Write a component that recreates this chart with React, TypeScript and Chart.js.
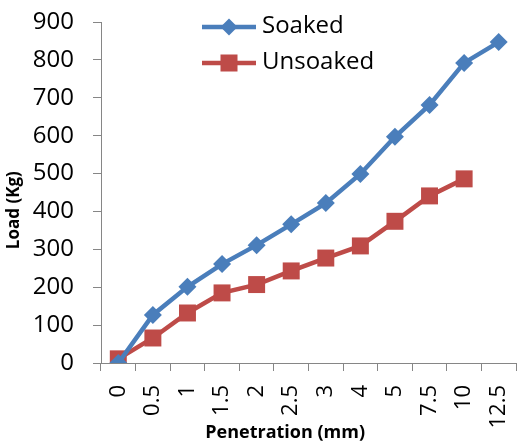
import React, { useEffect, useRef } from "react";
import { Chart, registerables } from "chart.js";

Chart.register(...registerables);

const categories = ["0", "0.5", "1", "1.5", "2", "2.5", "3", "4", "5", "7.5", "10", "12.5"];
const soaked = [0, 127, 201, 261, 311, 366, 422, 499, 597, 681, 792, 847];
const unsoaked = [11, 66, 132, 185, 207, 243, 277, 309, 374, 441, 486, null];
const yTicks = [0, 100, 200, 300, 400, 500, 600, 700, 800, 900];

const BLUE = "#4a7ebb";
const RED = "#be4b48";
const AXIS = "#868686";
const FONT = "'Open Sans', sans-serif";

const legendPlugin = {
  id: "customLegend",
  afterDraw(chart: any) {
    const ctx = chart.ctx;
    const rows = [
      { y: 27, ds: chart.data.datasets[0] },
      { y: 63, ds: chart.data.datasets[1] },
    ];
    ctx.save();
    rows.forEach((r) => {
      const ds = r.ds;
      ctx.strokeStyle = ds.borderColor;
      ctx.lineWidth = ds.borderWidth;
      ctx.beginPath();
      ctx.moveTo(202, r.y);
      ctx.lineTo(256, r.y);
      ctx.stroke();
      ctx.fillStyle = ds.backgroundColor;
      const cx = 229;
      if (ds.pointStyle === "rectRot") {
        const s = 8.5;
        ctx.beginPath();
        ctx.moveTo(cx - s, r.y);
        ctx.lineTo(cx, r.y - s);
        ctx.lineTo(cx + s, r.y);
        ctx.lineTo(cx, r.y + s);
        ctx.closePath();
        ctx.fill();
      } else {
        ctx.fillRect(cx - 8.5, r.y - 8.5, 17, 17);
      }
      ctx.fillStyle = "#000";
      ctx.font = `24px ${FONT}`;
      ctx.textAlign = "left";
      ctx.textBaseline = "middle";
      ctx.fillText(ds.label, 262, r.y - 1);
    });
    ctx.restore();
  },
};

export default function App() {
  const ref = useRef<HTMLCanvasElement>(null);
  useEffect(() => {
    if (!ref.current) return;
    const chart = new Chart(ref.current, {
      type: "line",
      data: {
        labels: categories,
        datasets: [
          {
            label: "Soaked",
            data: soaked,
            borderColor: BLUE,
            backgroundColor: BLUE,
            borderWidth: 4.5,
            pointStyle: "rectRot",
            pointRadius: 9,
            pointHoverRadius: 9,
            pointBorderWidth: 0,
            tension: 0,
          },
          {
            label: "Unsoaked",
            data: unsoaked,
            borderColor: RED,
            backgroundColor: RED,
            borderWidth: 4.5,
            pointStyle: "rect",
            pointRadius: 12,
            pointHoverRadius: 12,
            pointBorderWidth: 0,
            tension: 0,
          },
        ],
      },
      options: {
        responsive: false,
        animation: false,
        events: [],
        layout: { autoPadding: false, padding: { top: 22, right: 1, left: 0, bottom: 0 } },
        plugins: {
          legend: { display: false },
          tooltip: { enabled: false },
        },
        scales: {
          x: {
            type: "category",
            offset: true,
            grid: {
              display: true,
              drawOnChartArea: false,
              offset: true,
              color: AXIS,
              tickLength: 8,
            },
            border: { color: AXIS, width: 1 },
            ticks: {
              color: "#000",
              font: { family: FONT, size: 22 },
              minRotation: 90,
              maxRotation: 90,
              padding: 14,
              autoSkip: false,
            },
            title: {
              display: true,
              text: "Penetration (mm)" + " ".repeat(10),
              color: "#000",
              font: { family: FONT, size: 18, weight: "bold" },
              padding: { top: 0, bottom: 2 },
            },
            afterFit(scale: any) {
              scale.height = 83;
              scale.paddingLeft = 0;
              scale.paddingRight = 0;
            },
          },
          y: {
            min: 0,
            max: 900,
            afterBuildTicks(scale: any) {
              scale.ticks = yTicks.map((v) => ({ value: v }));
            },
            grid: {
              display: true,
              drawOnChartArea: false,
              color: AXIS,
              tickLength: 8,
            },
            border: { color: AXIS, width: 1 },
            ticks: {
              color: "#000",
              font: { family: FONT, size: 24 },
              padding: 19,
            },
            title: {
              display: true,
              text: "Load (Kg)" + " ".repeat(8),
              color: "#000",
              font: { family: FONT, size: 17, weight: "bold" },
              padding: { top: 4, bottom: 0 },
            },
            afterFit(scale: any) {
              scale.width = 101;
              scale.paddingTop = 0;
              scale.paddingBottom = 0;
            },
          },
        },
      },
      plugins: [legendPlugin],
    } as any);
    return () => chart.destroy();
  }, []);
  return (
    <div style={{ position: "absolute", left: 0, top: 0, width: 517, height: 446, background: "#fff" }}>
      <canvas ref={ref} width={517} height={446} />
    </div>
  );
}
